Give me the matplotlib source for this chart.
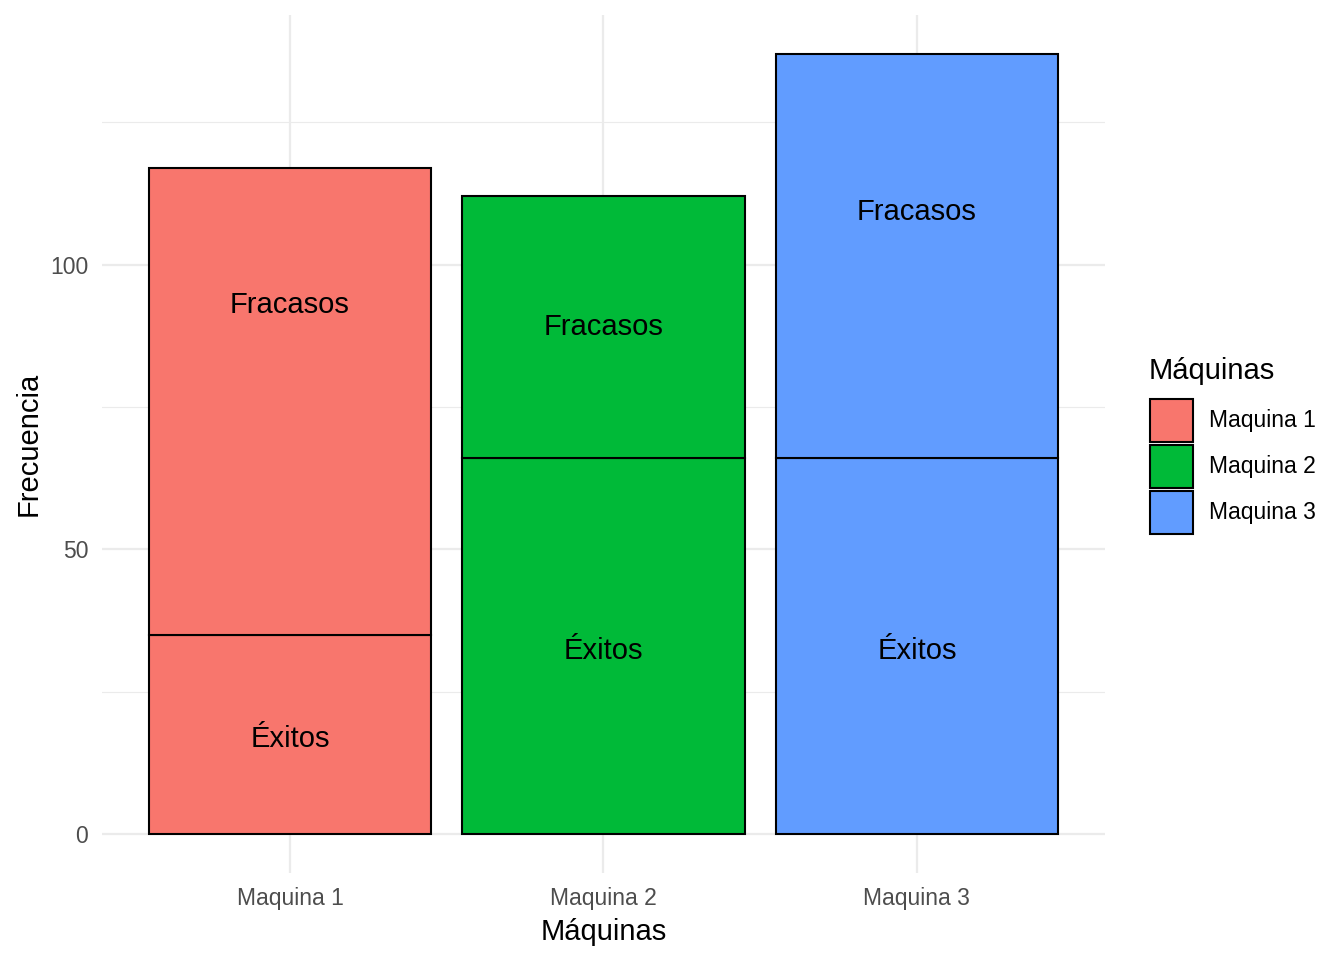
import matplotlib
matplotlib.use("Agg")
import matplotlib.pyplot as plt
from matplotlib.patches import Patch
import numpy as np

plt.rcParams['font.family'] = ['Liberation Sans', 'DejaVu Sans']

maquinas = ["Maquina 1", "Maquina 2", "Maquina 3"]
exitos = [35, 66, 66]
fracasos = [82, 46, 71]
colores = ["#F8766D", "#00BA38", "#619CFF"]
label_y_exitos = [16.6, 32.1, 32.1]
label_y_fracasos = [93, 89, 109.2]

fig = plt.figure(figsize=(13.44, 9.6), dpi=100)
ax = fig.add_axes([102/1344, 1-873/960, (1105-102)/1344, (873-15)/960])

x = np.arange(1, len(maquinas)+1)
ax.bar(x, exitos, width=0.9, color=colores, edgecolor="black", linewidth=1.5, zorder=3)
ax.bar(x, fracasos, bottom=exitos, width=0.9, color=colores, edgecolor="black", linewidth=1.5, zorder=3)

for xi, ye, yf in zip(x, label_y_exitos, label_y_fracasos):
    ax.text(xi, ye, "Éxitos", ha="center", va="center", fontsize=21, color="black", zorder=4)
    ax.text(xi, yf, "Fracasos", ha="center", va="center", fontsize=21, color="black", zorder=4)

totals = [e + f for e, f in zip(exitos, fracasos)]
ymax = max(totals)
ax.set_xlim(0.4, 3.6)
ax.set_ylim(-0.05*ymax, ymax*1.05)

ax.set_yticks([0, 50, 100])
ax.set_yticks([25, 75, 125], minor=True)
ax.set_xticks(x)
ax.set_xticklabels(maquinas)
ax.grid(True, which="major", color="#EBEBEB", linewidth=1.6, zorder=0)
ax.grid(True, which="minor", axis="y", color="#EBEBEB", linewidth=0.8, zorder=0)
for s in ax.spines.values():
    s.set_visible(False)
ax.tick_params(axis="both", which="both", length=0, labelsize=16.5, labelcolor="#4D4D4D")
ax.tick_params(axis="x", pad=10)
ax.tick_params(axis="y", pad=10)
ax.set_xlabel("Máquinas", fontsize=21, color="black", labelpad=6)
ax.set_ylabel("Frecuencia", fontsize=21, color="black", labelpad=5)

handles = [Patch(facecolor=c, edgecolor="black", linewidth=1.5) for c in colores]
leg = fig.legend(handles, maquinas, loc="upper left",
                 bbox_to_anchor=(1150/1344, 1-399/960), frameon=False,
                 fontsize=16.5, handlelength=1.88, handleheight=2.51,
                 handletextpad=0.7, labelspacing=0.12, borderaxespad=0, borderpad=0)
fig.text(1149/1344, 1-371/960, "Máquinas", fontsize=21, color="black", ha="left", va="center")

fig.savefig("out.png", dpi=100)
